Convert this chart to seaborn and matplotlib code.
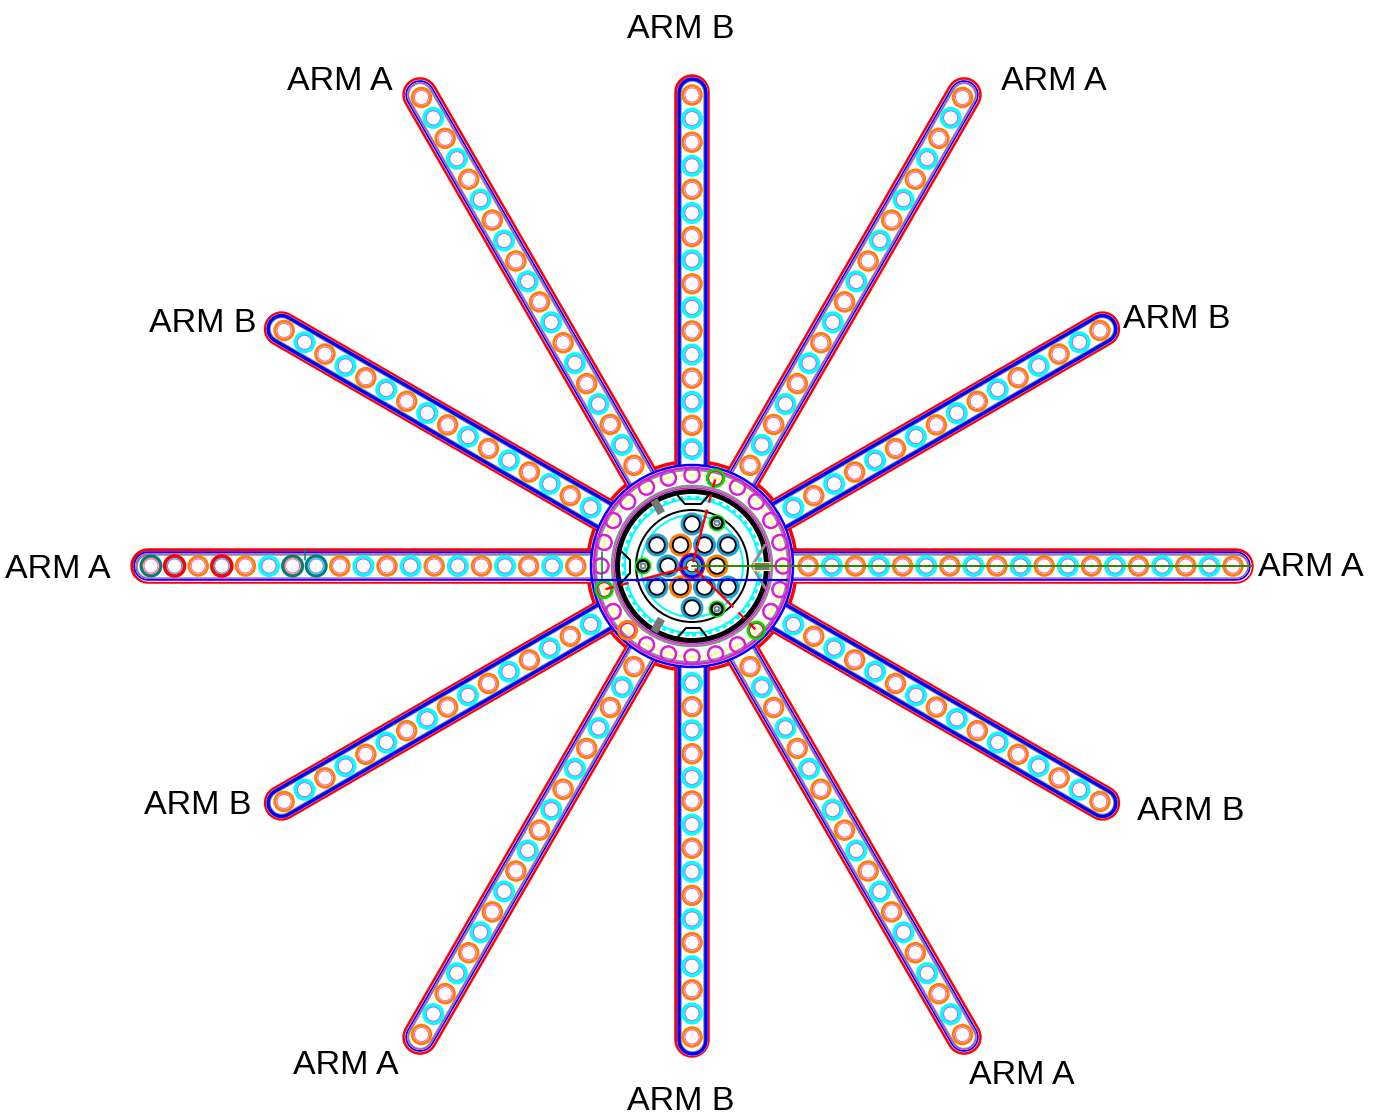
import numpy as np
import pandas as pd
import matplotlib
matplotlib.use('Agg')
import matplotlib.pyplot as plt
import seaborn as sns

# arms, clockwise from the top (angle in degrees, counter clockwise from east)
arm_angles = [90, 60, 30, 0, -30, -60, -90, -120, -150, 180, 150, 120]
arm_types = ['B', 'A', 'B', 'A', 'B', 'A', 'B', 'A', 'B', 'A', 'B', 'A']
arm_tip = {'A': 541, 'B': 471}
hole_count = {'A': 19, 'B': 16}
hole_step = 23.6

label_text = ['ARM B', 'ARM A', 'ARM B', 'ARM A', 'ARM B', 'ARM A',
              'ARM B', 'ARM A', 'ARM B', 'ARM A', 'ARM B', 'ARM A']
label_x = [681, 1054, 1177, 1311, 1191, 1022, 681, 346, 198, 58, 203, 340]
label_y = [28, 80, 318, 565, 809, 1073, 1100, 1063, 804, 567, 321, 79]

# band colours and widths of an arm, outside to inside
arm_bands = {
    'A': [('#ff0000', 35.5), ('#ffffff', 30.5), ('#0000ff', 29.5), ('#ffffff', 26),
          ('#d81fd8', 25.5), ('#8c8c8c', 24), ('#ffffff', 21.5)],
    'B': [('#ff0000', 35.5), ('#ffffff', 31), ('#0000ff', 30.5), ('#8c8c8c', 23.5),
          ('#ffffff', 21.5)],
}

# hub rings: radius, colour, width
hub_rings = [(101, '#0000ff', 2.5), (98, '#e010e0', 2.5), (96, '#8c8c8c', 2),
             (91, '#ffff66', 1.5), (80, '#8c8c8c', 2.5), (78, '#e010e0', 1.5),
             (74.5, '#000000', 5), (67, '#00ffff', 2), (56, '#000000', 2),
             (51, '#00ffff', 2)]

# pin circle inside the hub
pin_x = [0, -35, -11.5, 12.5, 36, -24, 25, -35, -11.5, 12.5, 36, 0]
pin_y = [42, 21, 21, 21, 21, 0, 0, -21, -21, -21, -21, -42]
pin_ring = ['b', 'b', 'o', 'b', 'b', 'b', 'o', 'b', 'o', 'b', 'b', 'b']
screw_x = [25, -49, 25]
screw_y = [43, 0, -43]
hub_hole_angles = list(range(0, 360, 15))
green_holes = [75, 195, 315]

sns.set_theme(style='white')
plt.rcParams['font.family'] = ['Liberation Sans', 'DejaVu Sans']

fig, ax = plt.subplots(figsize=(13.86, 11.2), dpi=100)
ax.set_position([0, 0, 1, 1])
PT = 0.72  # points per pixel


def ring(df, diam, color, width, zorder=2.5):
    sns.scatterplot(data=df, x='x', y='y', s=(diam * PT) ** 2, facecolor='none',
                    edgecolor=color, linewidth=width * PT, legend=False, ax=ax,
                    zorder=zorder)


def circle(r, color, width, **kw):
    ax.add_patch(plt.Circle((0, 0), r, fill=False, color=color, lw=width * PT, **kw))


def seg(x0, y0, x1, y1, color, width, **kw):
    ax.plot([x0, x1], [y0, y1], color=color, lw=width * PT, **kw)


circle(104.5, '#ff0000', 3.5)

rows = []
for ang, kind in zip(arm_angles, arm_types):
    ca, sa = np.cos(np.radians(ang)), np.sin(np.radians(ang))
    tip = arm_tip[kind]
    end = tip + 3
    for color, width in arm_bands[kind]:
        sns.lineplot(x=[95 * ca, end * ca], y=[95 * sa, end * sa], color=color,
                     linewidth=width * PT, sort=False, estimator=None,
                     solid_capstyle='round', ax=ax)
    for i in range(hole_count[kind]):
        r = tip - i * hole_step
        rows.append((ang, i, r * ca, r * sa, 'orange' if i % 2 == 0 else 'cyan'))
holes = pd.DataFrame(rows, columns=['arm', 'i', 'x', 'y', 'kind'])

ring(holes[holes.kind == 'orange'], 18.5, '#ff8000', 3)
ring(holes[holes.kind == 'cyan'], 18, '#00ffff', 4)
ring(holes, 14, '#f040e0', 0.8)

# odd holes at the end of the west arm
west = holes[holes.arm == 180]
ring(west[west.i.isin([1, 3])], 20, '#ff0000', 3.5)
ring(west[west.i.isin([0, 6, 7])], 20, '#007f7f', 3)
seg(-387, 6, -387, 17, '#007f7f', 1.5)

# hub
ax.add_patch(plt.Circle((0, 0), 100, color='white', zorder=3))
for r, color, width in hub_rings:
    circle(r, color, width, zorder=3)
ax.add_patch(plt.Circle((0, 0), 68.5, fill=False, color='#00ffff', lw=4 * PT,
                        ls=(0, (1, 1)), zorder=3))

hub = pd.DataFrame({'ang': hub_hole_angles})
hub['x'] = 91 * np.cos(np.radians(hub.ang))
hub['y'] = 91 * np.sin(np.radians(hub.ang))
ring(hub, 15, '#d81fd8', 2.5, zorder=4)

# red marked lines
for ang in green_holes:
    ca, sa = np.cos(np.radians(ang)), np.sin(np.radians(ang))
    seg(5 * ca, 5 * sa, 50 * ca, 50 * sa, '#ff0000', 2.4, zorder=8)
    seg(50 * ca, 50 * sa, 91 * ca, 91 * sa, '#ff0000', 2.4, ls=(0, (3.5, 3)), zorder=8)
green = hub[hub.ang.isin(green_holes)]
ring(green, 15, '#ff0000', 1.5, zorder=6)
ring(green, 17, '#00e000', 2.5, zorder=6)
ring(hub[hub.ang == 225], 18, '#ff8000', 3, zorder=4)

# flats
ax.plot([-14, -7, 9, 16], [70, 62, 62, 70], color='black', lw=1.5, zorder=5)
ax.plot([-14, -6, 8, 15], [-71, -62, -62, -71], color='black', lw=1.5, zorder=5)
ax.plot([-70, -62, -62, -70], [14, 6, -7, -16], color='black', lw=1.5, zorder=5)
ax.plot([73, 60, 73], [21, 0, -22], color='#8c8c8c', lw=2, zorder=5)

# grey keys
for ang in [120, 240]:
    ca, sa = np.cos(np.radians(ang)), np.sin(np.radians(ang))
    seg(61 * ca, 61 * sa, 76 * ca, 76 * sa, '#777777', 8, solid_capstyle='butt', zorder=6)
seg(61, 0, 78, 0, '#ffff66', 9, solid_capstyle='butt', zorder=6)
seg(62, 0, 77, 0, '#777777', 7, solid_capstyle='butt', zorder=6)

# pins
pins = pd.DataFrame({'x': pin_x, 'y': pin_y, 'ring': pin_ring})
ring(pins[pins.ring == 'b'], 19, '#1fa0d8', 4, zorder=6)
ring(pins[pins.ring == 'o'], 19, '#ff8000', 4, zorder=6)
ring(pins, 15.5, '#000000', 1.8, zorder=7)

centre = pd.DataFrame({'x': [0], 'y': [0]})
ring(centre, 25, '#ff0000', 1.5, zorder=6)
ring(centre, 21, '#0000ff', 3, zorder=6)
ring(centre, 16, '#1fa0d8', 2.5, zorder=6)
ring(centre, 12, '#333333', 1.5, zorder=7)

screws = pd.DataFrame({'x': screw_x, 'y': screw_y})
ring(screws, 15, '#00e000', 2, zorder=6)
ring(screws, 11, '#000000', 2.5, zorder=7)
ring(screws, 5, '#808080', 2, zorder=7)

# long lines over the west and east arms
seg(-105, -14, 95, -14, '#0000ff', 2.2, zorder=8)
seg(0, 0, 560, 0, '#2e8b00', 2, zorder=8)
seg(-90, 14, -90, -15, '#007f50', 1.5, zorder=5)

for txt, px, py in zip(label_text, label_x, label_y):
    ax.text(px - 692, 566 - py - 2, txt, fontsize=24.5, ha='center', va='center',
            color='black', zorder=9)

ax.set_xlim(-692, 694)
ax.set_ylim(-554, 566)
ax.axis('off')
fig.savefig('out.png', dpi=100)
